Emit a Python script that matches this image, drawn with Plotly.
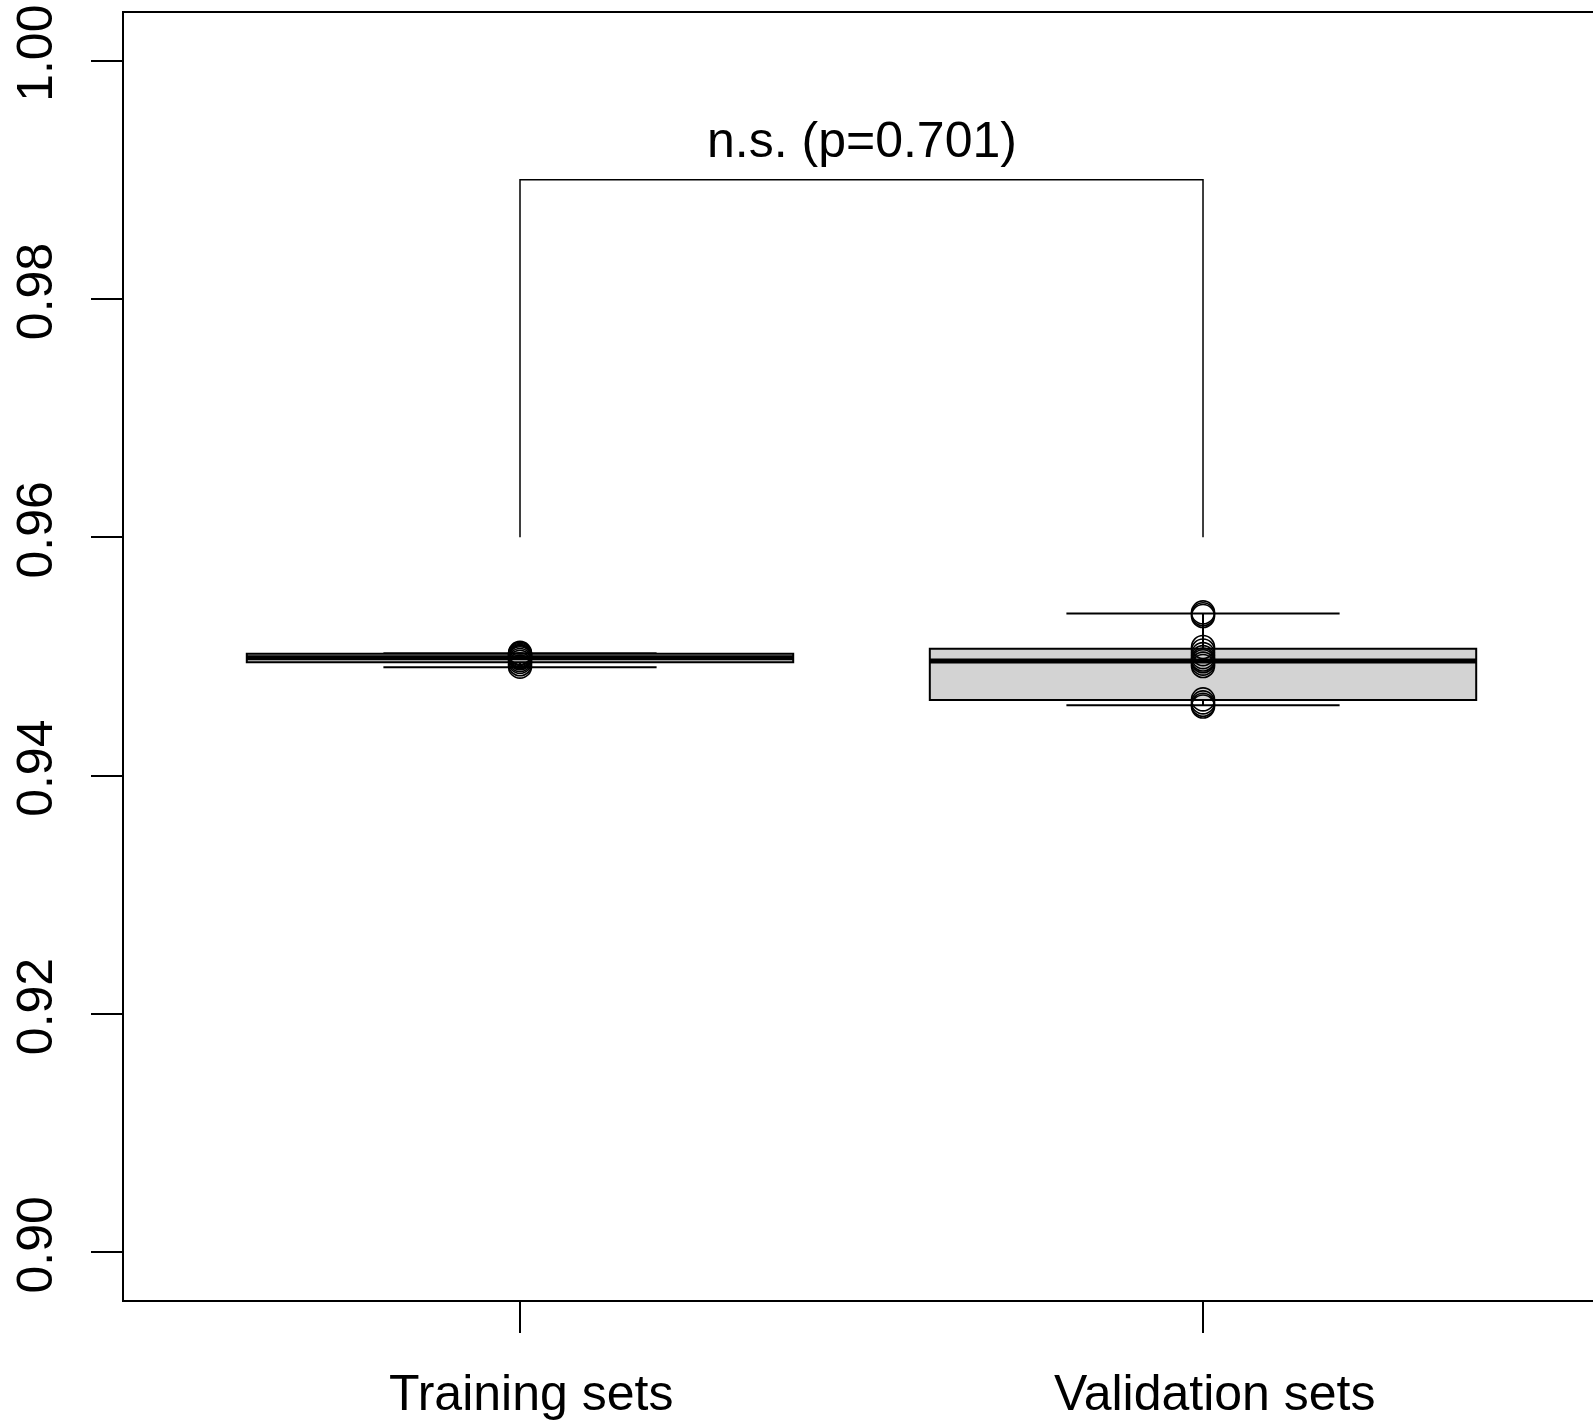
import plotly.graph_objects as go

# ---- data ----
groups = ["Training sets", "Validation sets"]
positions = [1, 2]
lower_whisker = [0.94910, 0.94591]
q1_vals = [0.94952, 0.94636]
median_vals = [0.94990, 0.94963]
q3_vals = [0.95023, 0.95065]
upper_whisker = [0.95027, 0.95360]

train_points = [0.95030, 0.95022, 0.95012, 0.95003, 0.94995, 0.94985, 0.94970, 0.94955, 0.94935, 0.94915]
valid_points = [0.95370, 0.95355, 0.95340, 0.95080, 0.95050, 0.95020, 0.94995, 0.94975, 0.94960,
                0.94940, 0.94920, 0.94640, 0.94615, 0.94595, 0.94580]

bracket_low = 0.96
bracket_high = 0.99
p_label = "n.s. (p=0.701)"

y_ticks = [0.90, 0.92, 0.94, 0.96, 0.98, 1.00]
y_tick_text = ["0.90", "0.92", "0.94", "0.96", "0.98", "1.00"]

FONT = "Liberation Sans, Arial, Helvetica, sans-serif"
BOXW = 0.8

fig = go.Figure()

for i in range(2):
    fig.add_trace(go.Box(
        x=[positions[i]], q1=[q1_vals[i]], median=[median_vals[i]], q3=[q3_vals[i]],
        lowerfence=[lower_whisker[i]], upperfence=[upper_whisker[i]],
        width=BOXW, whiskerwidth=0.5, fillcolor="#d3d3d3",
        line=dict(color="black", width=2), boxpoints=False, showlegend=False,
        hoverinfo="skip"))
    # thick median line
    fig.add_trace(go.Scatter(
        x=[positions[i] - BOXW / 2, positions[i] + BOXW / 2],
        y=[median_vals[i], median_vals[i]], mode="lines",
        line=dict(color="black", width=5), showlegend=False, hoverinfo="skip"))

# data points
for pos, pts in zip(positions, [train_points, valid_points]):
    fig.add_trace(go.Scatter(
        x=[pos] * len(pts), y=pts, mode="markers",
        marker=dict(symbol="circle-open", size=23, color="black", line=dict(width=1.6, color="black")),
        showlegend=False, hoverinfo="skip"))

# significance bracket
fig.add_trace(go.Scatter(
    x=[positions[0], positions[0], positions[1], positions[1]],
    y=[bracket_low, bracket_high, bracket_high, bracket_low],
    mode="lines", line=dict(color="black", width=1.5), showlegend=False, hoverinfo="skip"))

fig.add_annotation(x=(positions[0] + positions[1]) / 2, y=bracket_high, text=p_label,
                   showarrow=False, yanchor="bottom", yshift=10,
                   font=dict(family=FONT, size=50, color="black"))

# category labels (R places them slightly right of the tick)
for pos, name in zip(positions, groups):
    fig.add_annotation(x=pos, y=0, xref="x", yref="paper", text=name, showarrow=False,
                       xanchor="center", yanchor="top", xshift=11, yshift=-63,
                       font=dict(family=FONT, size=50, color="black"))

fig.update_layout(
    width=1593, height=1421,
    margin=dict(l=124, r=0, t=13, b=121),
    paper_bgcolor="white", plot_bgcolor="white",
    boxmode="overlay",
    font=dict(family=FONT, size=50, color="black"),
    xaxis=dict(range=[0.4202, 2.571], tickmode="array", tickvals=positions, ticktext=["", ""],
               showgrid=False, zeroline=False, showline=True, linecolor="black", linewidth=2,
               mirror=True, ticks="outside", ticklen=31, tickwidth=1.5, tickcolor="black",
               tickfont=dict(family=FONT, size=50, color="black")),
    yaxis=dict(range=[0.896, 1.004], tickmode="array", tickvals=y_ticks, ticktext=y_tick_text,
               showgrid=False, zeroline=False, showline=True, linecolor="black", linewidth=2,
               mirror=False, ticks="outside", ticklen=31, tickwidth=1.5, tickcolor="black",
               tickangle=-90, ticklabelstandoff=19,
               tickfont=dict(family=FONT, size=50, color="black")),
)

fig.write_html("out.html")
